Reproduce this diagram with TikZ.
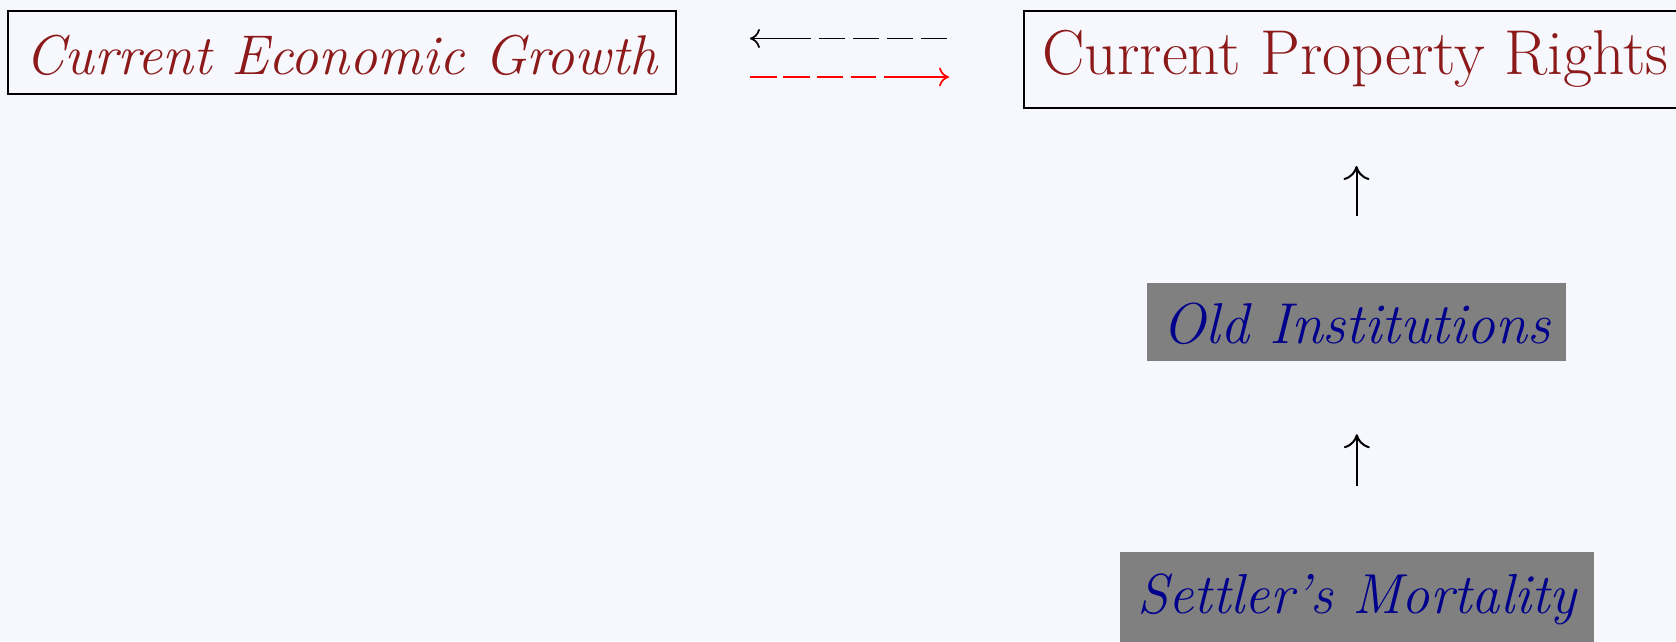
\documentclass[tikz,border=0pt]{standalone}
\usetikzlibrary{arrows.meta}
\definecolor{bgc}{RGB}{247,248,253}
\definecolor{dred}{RGB}{140,26,26}
\definecolor{navy}{RGB}{0,0,140}
\begin{document}
\begin{tikzpicture}[x=1pt,y=-1pt,
  redbox/.style={draw=black, line width=2pt, text=dred, inner sep=0pt, anchor=base},
  graybox/.style={fill=gray, draw=none, text=navy, inner sep=0pt, anchor=base},
  harrow/.style={line width=1.7pt, -{Computer Modern Rightarrow[length=10pt,width=19pt]}},
  varrow/.style={line width=2pt, black, -{Computer Modern Rightarrow[length=14pt,width=26pt]}}]
\fill[bgc] (0,0) rectangle (1676,641);
\useasboundingbox (0,0) rectangle (1676,641);
\node[redbox, minimum width=668pt, text height=63.3pt, text depth=20pt] (ceg) at (341.5,74)
  {\fontsize{56}{62}\selectfont\itshape Current Economic Growth};
\node[redbox, minimum width=663pt, text height=63.3pt, text depth=34pt] (cpr) at (1355.5,74)
  {\fontsize{63.4}{70}\selectfont Current Property Rights};
\node[graybox, minimum width=419pt, text height=60pt, text depth=18pt] (old) at (1356.5,343)
  {\fontsize{57.6}{64}\selectfont\itshape Old Institutions};
\node[graybox, minimum width=474pt, text height=61pt, text depth=34pt] (set) at (1356.8,613)
  {\fontsize{56.4}{63}\selectfont\itshape Settler's Mortality};
\coordinate (yb) at (0,38.5);
\coordinate (yr) at (0,77);
\draw[harrow, black, shorten <=76pt, shorten >=73.4pt,
  dash pattern=on 26pt off 8pt on 26pt off 8pt on 26pt off 8pt on 26pt off 8pt on 120pt off 1pt]
  (cpr.west |- yb) -- (ceg.east |- yb);
\draw[harrow, red, shorten <=73.4pt, shorten >=74pt,
  dash pattern=on 27pt off 6.5pt on 27pt off 6.5pt on 26pt off 8pt on 25pt off 8pt on 120pt off 1pt]
  (ceg.east |- yr) -- (cpr.west |- yr);
\draw[varrow, shorten <=67pt, shorten >=57pt] (old.north) -- (old.north |- cpr.south);
\draw[varrow, shorten <=66pt, shorten >=73pt] (set.north) -- (set.north |- old.south);
\end{tikzpicture}
\end{document}
